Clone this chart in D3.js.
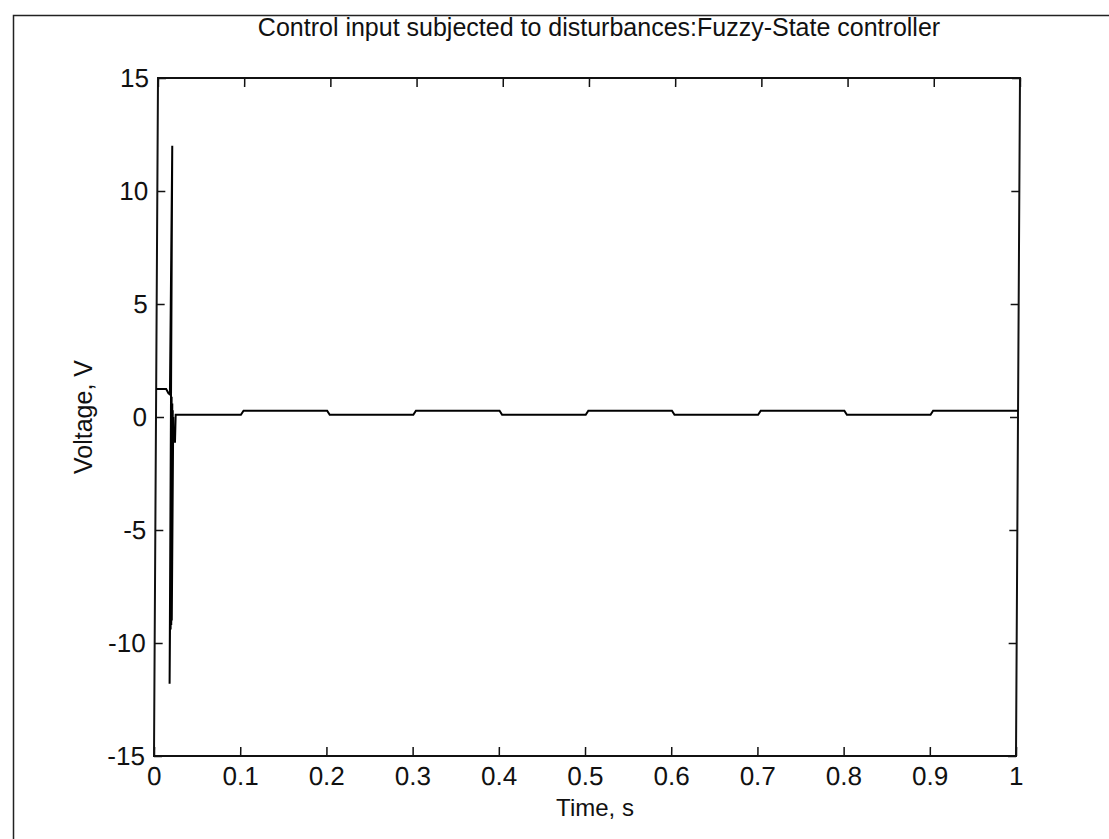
<!DOCTYPE html>
<html>
<head>
<meta charset="utf-8">
<script src="https://cdn.jsdelivr.net/npm/d3@7/dist/d3.min.js"></script>
<style>
  html, body { margin: 0; padding: 0; background: #fff; }
  svg { display: block; }
  text { font-family: "Liberation Sans", Arial, Helvetica, sans-serif; fill: #111; }
</style>
</head>
<body>
<script>
// ---- data ----
const titleText = "Control input subjected to disturbances:Fuzzy-State controller";
const xLabelText = "Time, s";
const yLabelText = "Voltage, V";

const xTicks = [0, 0.1, 0.2, 0.3, 0.4, 0.5, 0.6, 0.7, 0.8, 0.9, 1];
const xTickLabels = ["0", "0.1", "0.2", "0.3", "0.4", "0.5", "0.6", "0.7", "0.8", "0.9", "1"];
const yTicks = [-15, -10, -5, 0, 5, 10, 15];
const yTickLabels = ["-15", "-10", "-5", "0", "5", "10", "15"];

const timeS = [0, 0.0116, 0.0143, 0.0160, 0.0170, 0.0176, 0.0180, 0.0184, 0.0188, 0.0191, 0.0194, 0.0197, 0.0200, 0.0205, 0.0212, 0.0222, 0.0228, 0.0255,
  0.0985, 0.1015, 0.1985, 0.2015, 0.2985, 0.3015, 0.3985, 0.4015, 0.4985, 0.5015,
  0.5985, 0.6015, 0.6985, 0.7015, 0.7985, 0.8015, 0.8985, 0.9015, 1.0];
const voltage = [1.24, 1.24, 1.05, 1.0, 12.0, -11.8, 0.9, -9.4, 0.6, -9.2, 0.3, -9.0, 0.0, -1.1, -1.1, -1.1, 0.1, 0.1,
  0.1, 0.28, 0.28, 0.1, 0.1, 0.28, 0.28, 0.1, 0.1, 0.28,
  0.28, 0.1, 0.1, 0.28, 0.28, 0.1, 0.1, 0.28, 0.28];

// ---- layout ----
const W = 1109, H = 839;
const plot = { left: 156, right: 1018, top: 78, bottom: 756 };

const svg = d3.select("body").append("svg").attr("width", W).attr("height", H);

// outer figure border (extends beyond the page on right / bottom)
svg.append("rect")
  .attr("x", 13.5).attr("y", 15.5)
  .attr("width", W + 20).attr("height", H + 20)
  .attr("fill", "none").attr("stroke", "#222").attr("stroke-width", 1.5);

const cy = (plot.top + plot.bottom) / 2;
const g = svg.append("g")
  .attr("transform", `translate(0,${cy}) skewX(-0.338) translate(0,${-cy})`);

const x = d3.scaleLinear().domain([0, 1]).range([plot.left, plot.right]);
const y = d3.scaleLinear().domain([-15, 15]).range([plot.bottom, plot.top]);

const fontTick = 26;

// bottom axis
const xAxis = d3.axisBottom(x).tickValues(xTicks)
  .tickFormat((d, i) => xTickLabels[i])
  .tickSizeInner(-9).tickSizeOuter(0).tickPadding(11);
const gx = g.append("g").attr("transform", `translate(0,${plot.bottom})`).call(xAxis);
// top axis (ticks only)
const gxt = g.append("g").attr("transform", `translate(0,${plot.top})`)
  .call(d3.axisTop(x).tickValues(xTicks).tickFormat("").tickSizeInner(-9).tickSizeOuter(0));
// left axis
const yAxis = d3.axisLeft(y).tickValues(yTicks)
  .tickFormat((d, i) => yTickLabels[i])
  .tickSizeInner(-8).tickSizeOuter(0).tickPadding(9);
const gy = g.append("g").attr("transform", `translate(${plot.left},0)`).call(yAxis);
// right axis (ticks only)
const gyr = g.append("g").attr("transform", `translate(${plot.right},0)`)
  .call(d3.axisRight(y).tickValues(yTicks).tickFormat("").tickSizeInner(-8).tickSizeOuter(0));

[gx, gxt, gy, gyr].forEach(a => {
  a.select(".domain").remove();
  a.selectAll(".tick line").attr("stroke", "#111").attr("stroke-width", 1.5);
  a.selectAll(".tick text").attr("font-size", fontTick).attr("fill", "#111")
    .style("font-family", '"Liberation Sans", Arial, sans-serif');
});

// plot box
g.append("rect")
  .attr("x", plot.left).attr("y", plot.top)
  .attr("width", plot.right - plot.left).attr("height", plot.bottom - plot.top)
  .attr("fill", "none").attr("stroke", "#111").attr("stroke-width", 2);

// data line
const pts = timeS.map((t, i) => [t, voltage[i]]);
g.append("path")
  .datum(pts)
  .attr("fill", "none").attr("stroke", "#000").attr("stroke-width", 2)
  .attr("stroke-linejoin", "miter")
  .attr("d", d3.line().x(d => x(d[0])).y(d => y(d[1])));

// title
svg.append("text")
  .attr("x", (plot.left + plot.right) / 2 + 12).attr("y", 36)
  .attr("text-anchor", "middle").attr("font-size", 25)
  .text(titleText);

// x label
svg.append("text")
  .attr("x", (plot.left + plot.right) / 2 + 8).attr("y", 816)
  .attr("text-anchor", "middle").attr("font-size", 24)
  .text(xLabelText);

// y label
svg.append("text")
  .attr("transform", `translate(92,${cy}) rotate(-90)`)
  .attr("text-anchor", "middle").attr("font-size", 25)
  .text(yLabelText);
</script>
</body>
</html>
